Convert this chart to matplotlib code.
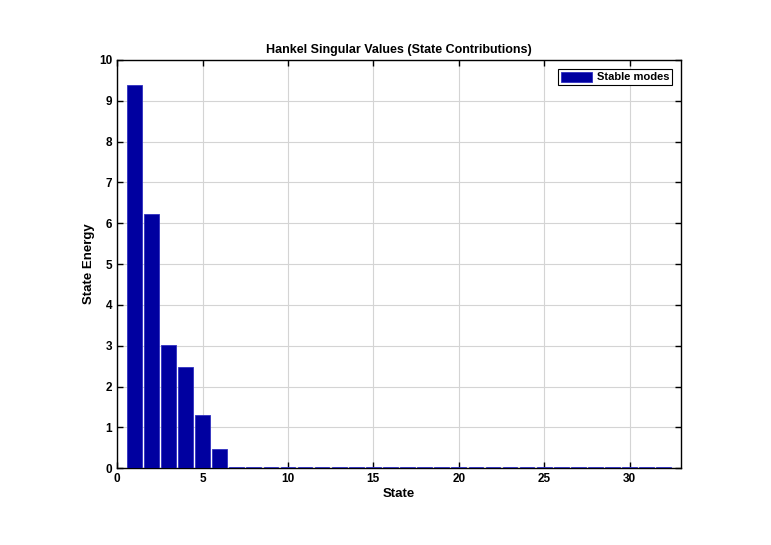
import matplotlib
matplotlib.use("Agg")
import matplotlib.pyplot as plt
import numpy as np

plt.rcParams['font.family'] = ['Liberation Sans', 'DejaVu Sans']

states = list(range(1, 33))
energy = [9.39, 6.22, 3.01, 2.47, 1.30, 0.48] + [0.02] * 26
xticks = [0, 5, 10, 15, 20, 25, 30]
yticks = list(range(0, 11))

fig = plt.figure(figsize=(7.71, 5.45), dpi=100)
ax = fig.add_axes([0.152, 0.141, 0.731, 0.749])
ax.bar(states, energy, width=0.86, color='#0000a0', edgecolor='#3030c0', linewidth=0.6,
       label='Stable modes', zorder=3)
ax.set_xlim(0, 33)
ax.set_ylim(0, 10)
ax.set_xticks(xticks)
ax.set_yticks(yticks)
ax.grid(True, color='#d4d4d4', linewidth=0.8, zorder=0)
ax.tick_params(direction='in', top=True, right=True, length=4, width=1, labelsize=8.5)
for lbl in ax.get_xticklabels() + ax.get_yticklabels():
    lbl.set_fontweight('bold')
for s in ax.spines.values():
    s.set_linewidth(1.0)
ax.set_xlabel('State', fontsize=9.5, fontweight='bold', labelpad=2)
ax.set_ylabel('State Energy', fontsize=9.5, fontweight='bold', labelpad=3)
ax.set_title('Hankel Singular Values (State Contributions)', fontsize=9, fontweight='bold', pad=5)
leg = ax.legend(loc='upper right', prop={'weight': 'bold', 'size': 8},
                fancybox=False, edgecolor='black', framealpha=1,
                handlelength=2.8, handleheight=1.0, borderpad=0.25, borderaxespad=0.8,
                handletextpad=0.4)
leg.get_frame().set_linewidth(0.8)
fig.savefig('out.png', dpi=100)
